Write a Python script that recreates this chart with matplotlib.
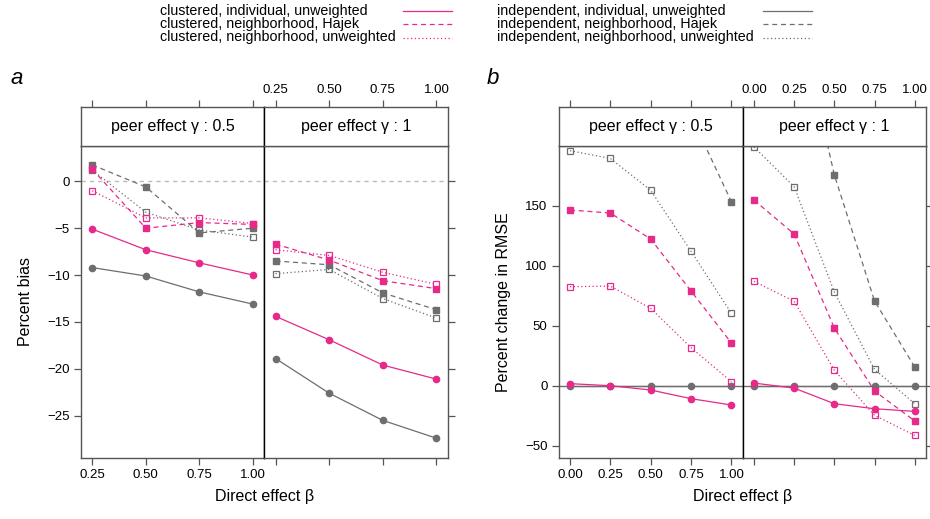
import matplotlib
matplotlib.use("Agg")
import matplotlib.pyplot as plt
from matplotlib.lines import Line2D

plt.rcParams['font.family'] = ['Liberation Sans', 'DejaVu Sans']

# ---------------- data ----------------
beta_a = [0.25, 0.50, 0.75, 1.00]
beta_b = [0.00, 0.25, 0.50, 0.75, 1.00]
xticks_a = [0.25, 0.50, 0.75, 1.00]
xticks_b = [0.00, 0.25, 0.50, 0.75, 1.00]
yticks_a = [0, -5, -10, -15, -20, -25]
yticks_b = [-50, 0, 50, 100, 150]
gammas = ["0.5", "1"]

# Percent bias, gamma = 0.5
bias_clu_ind_g05 = [-5.1, -7.3, -8.7, -10.0]
bias_ind_ind_g05 = [-9.2, -10.1, -11.8, -13.1]
bias_clu_haj_g05 = [1.3, -5.0, -4.4, -4.6]
bias_ind_haj_g05 = [1.75, -0.6, -5.5, -5.0]
bias_clu_unw_g05 = [-1.0, -3.9, -3.9, -4.5]
bias_ind_unw_g05 = [1.2, -3.3, -5.2, -5.95]
# Percent bias, gamma = 1
bias_clu_ind_g1 = [-14.4, -16.9, -19.6, -21.1]
bias_ind_ind_g1 = [-18.9, -22.6, -25.5, -27.4]
bias_clu_haj_g1 = [-6.7, -8.4, -10.6, -11.45]
bias_ind_haj_g1 = [-8.5, -8.9, -11.9, -13.7]
bias_clu_unw_g1 = [-7.3, -7.9, -9.7, -11.0]
bias_ind_unw_g1 = [-9.85, -9.4, -12.5, -14.6]

# Percent change in RMSE, gamma = 0.5
rmse_clu_ind_g05 = [1.7, 0.0, -3.6, -10.8, -16.1]
rmse_ind_ind_g05 = [0.0, 0.0, 0.0, 0.0, 0.0]
rmse_clu_haj_g05 = [146.4, 143.9, 122.2, 78.9, 35.6]
rmse_ind_haj_g05 = [420.0, 370.0, 300.0, 225.0, 153.3]
rmse_clu_unw_g05 = [82.5, 83.0, 64.4, 31.7, 3.3]
rmse_ind_unw_g05 = [195.8, 189.4, 162.8, 112.0, 60.3]
# Percent change in RMSE, gamma = 1
rmse_clu_ind_g1 = [2.2, -2.0, -15.0, -19.2, -21.4]
rmse_ind_ind_g1 = [0.0, 0.0, 0.0, 0.0, 0.0]
rmse_clu_haj_g1 = [154.7, 126.4, 48.0, -4.4, -29.4]
rmse_ind_haj_g1 = [450.0, 323.0, 175.6, 70.6, 15.6]
rmse_clu_unw_g1 = [87.0, 70.3, 12.8, -24.7, -41.4]
rmse_ind_unw_g1 = [199.0, 165.8, 78.0, 13.6, -15.0]

legend_left = ["clustered, individual, unweighted",
               "clustered, neighborhood, Hajek",
               "clustered, neighborhood, unweighted"]
legend_right = ["independent, individual, unweighted",
                "independent, neighborhood, Hajek",
                "independent, neighborhood, unweighted"]

# ---------------- style ----------------
PINK = '#E7298A'
GRAY = '#6E6E6E'
AXC = '#555555'
W, H = 930, 519
fig = plt.figure(figsize=(W / 100, H / 100), dpi=100)


def rect(x0, y0, x1, y1):
    return [x0 / W, 1 - y1 / H, (x1 - x0) / W, (y1 - y0) / H]


def num(v):
    return str(v).replace('-', '\u2212')


DASH = (0, (4, 3))
DOT = (0, (1, 2))


def draw_series(ax, x, ind, haj, unw, color):
    ax.plot(x, ind, color=color, lw=0.9, ls='-', marker='o', ms=4.5,
            mfc=color, mec=color)
    ax.plot(x, haj, color=color, lw=0.9, ls=DASH, marker='s', ms=4.3,
            mfc=color, mec=color)
    ax.plot(x, unw, color=color, lw=0.9, ls=DOT, marker='s', ms=4.3,
            mfc='none', mec=color, mew=0.9)


def style_axes(ax, side):
    for s in ax.spines.values():
        s.set_color(AXC)
        s.set_linewidth(1.0)
    if side == 'left':
        ax.spines['right'].set_color('black')
    else:
        ax.spines['left'].set_color('black')
    ax.tick_params(direction='out', length=5, width=0.9, color=AXC,
                   labelsize=9.5, pad=3)


def make_panel(x0, x1, xmid, xlim, xticks, ylim, yticks, data, zero_style,
               ylabel, ylabel_x, letter, letter_x):
    top, strip_bot, bot = 107.3, 145.7, 457.7
    xs = [(x0, xmid), (xmid, x1)]
    for i, (xa, xb) in enumerate(xs):
        side = 'left' if i == 0 else 'right'
        ax = fig.add_axes(rect(xa, strip_bot, xb, bot))
        x = data[i][0]
        if zero_style == 'dash':
            ax.axhline(0, color='#BBBBBB', lw=1.0, ls=(0, (3, 3)), zorder=1)
        else:
            ax.axhline(0, color=GRAY, lw=1.0, ls='-', zorder=1)
        clu, ind = data[i][1], data[i][2]
        draw_series(ax, x, *ind, GRAY)
        draw_series(ax, x, *clu, PINK)
        ax.set_xlim(*xlim)
        ax.set_ylim(*ylim)
        ax.set_xticks(xticks)
        ax.set_xticklabels(["%.2f" % v for v in xticks])
        ax.set_yticks(yticks)
        ax.set_yticklabels([num(v) for v in yticks])
        style_axes(ax, side)
        if i == 0:
            ax.tick_params(axis='x', bottom=True, labelbottom=True, top=False)
            ax.tick_params(axis='y', left=True, labelleft=True, right=False)
        else:
            ax.tick_params(axis='x', bottom=True, labelbottom=False, top=False)
            ax.tick_params(axis='y', left=False, labelleft=False,
                           right=True, labelright=False)
        # strip
        sa = fig.add_axes(rect(xa, top, xb, strip_bot))
        sa.set_xlim(*xlim)
        sa.set_ylim(0, 1)
        sa.set_yticks([])
        sa.set_xticks(xticks)
        sa.set_xticklabels(["%.2f" % v for v in xticks])
        style_axes(sa, side)
        sa.tick_params(axis='x', bottom=False, labelbottom=False, top=True,
                       labeltop=(i == 1))
        sa.text(0.5, 0.5, "peer effect \u03b3 : " + gammas[i], transform=sa.transAxes,
                ha='center', va='center', fontsize=11.5)
    fig.text(((x0 + x1) / 2) / W, 1 - 497 / H, "Direct effect \u03b2",
             ha='center', va='center', fontsize=11.5)
    fig.text(ylabel_x / W, 1 - ((strip_bot + bot) / 2) / H, ylabel,
             ha='center', va='center', rotation=90, fontsize=11.5)
    fig.text(letter_x / W, 1 - 78 / H, letter, ha='left', va='center',
             fontsize=16, style='italic')


data_a = [
    (beta_a,
     (bias_clu_ind_g05, bias_clu_haj_g05, bias_clu_unw_g05),
     (bias_ind_ind_g05, bias_ind_haj_g05, bias_ind_unw_g05)),
    (beta_a,
     (bias_clu_ind_g1, bias_clu_haj_g1, bias_clu_unw_g1),
     (bias_ind_ind_g1, bias_ind_haj_g1, bias_ind_unw_g1)),
]
data_b = [
    (beta_b,
     (rmse_clu_ind_g05, rmse_clu_haj_g05, rmse_clu_unw_g05),
     (rmse_ind_ind_g05, rmse_ind_haj_g05, rmse_ind_unw_g05)),
    (beta_b,
     (rmse_clu_ind_g1, rmse_clu_haj_g1, rmse_clu_unw_g1),
     (rmse_ind_ind_g1, rmse_ind_haj_g1, rmse_ind_unw_g1)),
]

make_panel(81, 447.7, 264.3, (0.1975, 1.0525), xticks_a, (-29.48, 3.80), yticks_a,
           data_a, 'dash', "Percent bias", 26, "a", 10)
make_panel(558.7, 926, 742.7, (-0.07, 1.07), xticks_b, (-60, 200), yticks_b,
           data_b, 'solid', "Percent change in RMSE", 503, "b", 487)

# ---------------- legend ----------------
styles = ['-', DASH, DOT]
rows = [10.5, 24, 37.5]
for j, (lab_l, lab_r) in enumerate(zip(legend_left, legend_right)):
    yy = 1 - rows[j] / H
    fig.text(160 / W, yy, lab_l, ha='left', va='center', fontsize=10.3)
    fig.text(497 / W, yy, lab_r, ha='left', va='center', fontsize=10.3)
    fig.add_artist(Line2D([403 / W, 452 / W], [yy, yy], color=PINK, lw=0.9,
                          ls=styles[j], transform=fig.transFigure))
    fig.add_artist(Line2D([763 / W, 812 / W], [yy, yy], color=GRAY, lw=0.9,
                          ls=styles[j], transform=fig.transFigure))

fig.savefig("out.png", dpi=100)
